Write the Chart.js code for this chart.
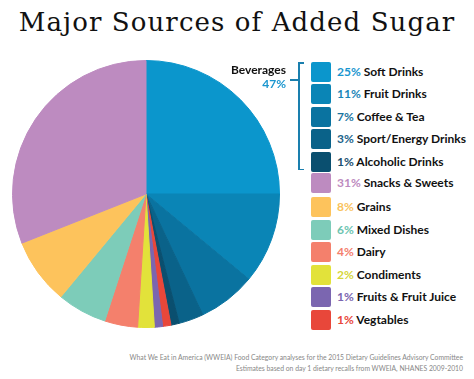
<!DOCTYPE html>
<html><head><meta charset="utf-8">
<script src="https://cdn.jsdelivr.net/npm/chart.js@4/dist/chart.umd.min.js"></script>
<style>
html,body{margin:0;padding:0;background:#fff;width:474px;height:379px;overflow:hidden;position:relative;font-family:Lato,"Open Sans",sans-serif;}
#title{position:absolute;left:0;width:474px;top:7px;text-align:center;font-family:"DejaVu Serif",serif;font-size:26px;color:#111;letter-spacing:1.1px;white-space:nowrap;}
#pieWrap{position:absolute;left:12px;top:60px;width:268px;height:268px;}
.row{position:absolute;left:311px;height:20px;white-space:nowrap;font-size:12px;font-weight:700;color:#111;}
.sw{position:absolute;left:0;top:0;width:20px;height:20px;border-radius:2px;}
.lab{position:absolute;left:26px;top:2px;line-height:16px;}
#bev{position:absolute;right:188px;top:63px;text-align:right;font-size:12px;font-weight:700;line-height:14px;color:#111;}
#bev span{color:#1a96cf;}
.ln{position:absolute;background:#1a7fae;}
#foot{position:absolute;right:11px;top:352px;text-align:right;font-size:6.8px;line-height:11px;color:#888;font-family:Lato,sans-serif;}
</style></head>
<body>
<div id="title">Major Sources of Added Sugar</div>
<div id="pieWrap"><canvas id="c" width="268" height="268"></canvas></div>
<div id="bev">Beverages<br><span>47%</span></div>
<div class="ln" style="left:298px;top:62px;width:1.5px;height:108px"></div>
<div class="ln" style="left:298px;top:62px;width:6px;height:1.5px"></div>
<div class="ln" style="left:298px;top:168.5px;width:6px;height:1.5px"></div>
<div class="ln" style="left:290px;top:79px;width:9px;height:1.5px"></div>
<div id="legend"></div>
<div id="foot">What We Eat in America (WWEIA) Food Category analyses for the 2015 Dietary Guidelines Advisory Committee<br>Estimates based on day 1 dietary recalls from WWEIA, NHANES 2009-2010</div>
<script>
// Pie order (clockwise from 12 o'clock)
const categories = ["Soft Drinks","Fruit Drinks","Coffee & Tea","Sport/Energy Drinks","Alcoholic Drinks","Vegtables","Fruits & Fruit Juice","Condiments","Dairy","Mixed Dishes","Grains","Snacks & Sweets"];
const values = [25,11,7,3,1,1,1,2,4,6,8,31];
const colors = ["#0b96cc","#0a85b6","#0a73a0","#0a6289","#0a4f6f","#e8473a","#7b66b0","#e2e23a","#f4806c","#7dccb9","#fdc35c","#bd8bc0"];
const labelColors = ["#1a96cf","#1a86b8","#1a74a0","#1a6389","#1a5070","#e8473a","#7b66b0","#d6d63a","#f4806c","#6cc4b0","#f9c35c","#bd8bc0"];
// Legend order (indices into categories)
const legendOrder = [0,1,2,3,4,11,10,9,8,7,6,5];
const legendTops = [62,84,107,129,152,173,197,220,242,265,287,310];

new Chart(document.getElementById('c'), {
  type: 'pie',
  data: { labels: categories, datasets: [{ data: values, backgroundColor: colors, borderColor: colors, borderWidth: 1 }] },
  options: {
    responsive: false, animation: false,
    layout: { padding: 0 },
    plugins: { legend: { display: false }, tooltip: { enabled: false } }
  }
});

const lg = document.getElementById('legend');
legendOrder.forEach((idx, i) => {
  const r = document.createElement('div');
  r.className = 'row';
  r.style.top = legendTops[i] + 'px';
  r.innerHTML = '<div class="sw" style="background:' + colors[idx] + '"></div>' +
    '<div class="lab"><span style="color:' + labelColors[idx] + '">' + values[idx] + '%</span> ' + categories[idx] + '</div>';
  lg.appendChild(r);
});
</script>
</body></html>
